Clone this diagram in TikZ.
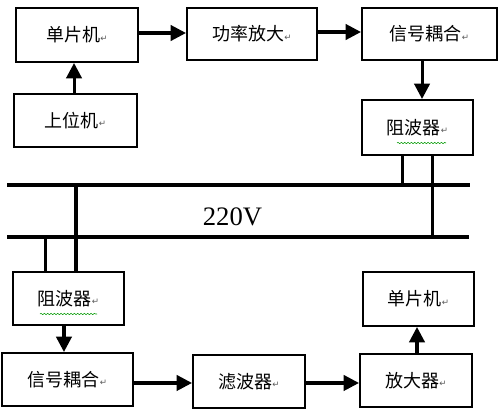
\documentclass[tikz,border=0pt]{standalone}
\usepackage{fontspec}
\newfontfamily\cjk{Noto Sans CJK SC}
\newfontfamily\serifnum{Liberation Serif}
\newfontfamily\symb{DejaVu Sans}
\usetikzlibrary{arrows.meta,decorations.pathmorphing}
\newcommand{\retmark}{{\symb\fontsize{6.5pt}{6.5pt}\selectfont\color{black!65}\raisebox{0.1ex}{↵}}}
\tikzset{
  box/.style={draw=black, line width=1.5pt, fill=white, inner sep=0pt,
    font=\cjk\fontsize{13.5pt}{15pt}\selectfont},
  flow/.style={line width=2.3pt, -{Triangle[length=11.5pt,width=11.5pt]}},
  wire/.style={line width=2.3pt},
  bus/.style={line width=2.5pt},
  squig/.style={draw=green!60!black, line width=0.4pt, decorate,
    decoration={snake, amplitude=0.5pt, segment length=2.5pt}}
}
\begin{document}
\begin{tikzpicture}[x=0.75pt,y=-0.75pt]
\useasboundingbox (0,0) rectangle (500,415);
% boxes
\node[box, minimum width=91.5pt, minimum height=40.5pt] (mcu1) at (77,35) {单片机\retmark};
\node[box, minimum width=97.5pt, minimum height=39pt] (pa) at (252,34) {功率放大\retmark};
\node[box, minimum width=101.25pt, minimum height=39pt] (cp1) at (429.5,34) {信号耦合\retmark};
\node[box, minimum width=83.25pt, minimum height=41.25pt] (bl1) at (417.5,127.5) {阻波器\retmark};
\node[box, minimum width=92.25pt, minimum height=39.75pt] (pc) at (75.5,120.5) {上位机\retmark};
\node[box, minimum width=83.25pt, minimum height=39.75pt] (bl2) at (68.5,298.5) {阻波器\retmark};
\node[box, minimum width=98.25pt, minimum height=39.75pt] (cp2) at (67.5,379.5) {信号耦合\retmark};
\node[box, minimum width=84pt, minimum height=39.75pt] (flt) at (249,381.5) {滤波器\retmark};
\node[box, minimum width=84pt, minimum height=39.75pt] (amp) at (416,380.5) {放大器\retmark};
\node[box, minimum width=83.25pt, minimum height=40.5pt] (mcu2) at (418.5,299) {单片机\retmark};
% spell-check squiggles
\draw[squig] (397,143) -- (446,143);
\draw[squig] (40,314) -- (97,314);
% buses
\coordinate (b1l) at (7,185);
\coordinate (b1r) at (470,185);
\coordinate (b2l) at (7,237);
\coordinate (b2r) at (469,237);
\draw[bus] (b1l) -- (b1r);
\draw[bus] (b2l) -- (b2r);
\node[font=\serifnum\fontsize{20pt}{21pt}\selectfont, inner sep=0pt] (v) at (232.5,216.5) {220V};
% taps
\draw[wire] ([xshift=-11.6pt]bl1.south) -- ([xshift=-11.6pt]bl1.south |- b1l);
\draw[wire] ([xshift=10.9pt]bl1.south) -- ([xshift=10.9pt]bl1.south |- b2l);
\draw[wire] ([xshift=5.6pt]bl2.north) -- ([xshift=5.6pt]bl2.north |- b1l);
\draw[wire] ([xshift=-17.6pt]bl2.north) -- ([xshift=-17.6pt]bl2.north |- b2l);
% arrows
\draw[flow] ([yshift=1.5pt]mcu1.east) -- ([yshift=1.5pt]mcu1.east -| pa.west);
\draw[flow] ([yshift=1.5pt]pa.east) -- ([yshift=1.5pt]pa.east -| cp1.west);
\draw[flow] ([xshift=3.4pt]bl1.north |- cp1.south) -- ([xshift=3.4pt]bl1.north);
\draw[flow] ([xshift=-1.1pt]pc.north) -- ([xshift=-1.1pt]pc.north |- mcu1.south);
\draw[flow] ([xshift=-3.4pt]bl2.south) -- ([xshift=-3.4pt]bl2.south |- cp2.north);
\draw[flow] ([yshift=-1.1pt]flt.west -| cp2.east) -- ([yshift=-1.1pt]flt.west);
\draw[flow] ([yshift=-1.1pt]flt.east) -- ([yshift=-1.1pt]flt.east -| amp.west);
\draw[flow] ([xshift=0.75pt]amp.north) -- ([xshift=0.75pt]amp.north |- mcu2.south);
\end{tikzpicture}
\end{document}
